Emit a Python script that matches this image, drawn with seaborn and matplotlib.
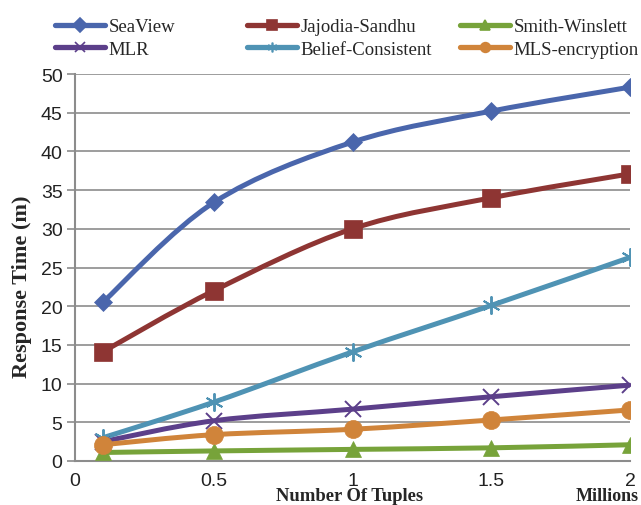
import matplotlib
matplotlib.use("Agg")
import matplotlib.pyplot as plt
from matplotlib.path import Path
from matplotlib.patches import PathPatch
from matplotlib.lines import Line2D
import seaborn as sns
import pandas as pd
import numpy as np

tuples = [0.1, 0.5, 1.0, 1.5, 2.0]
seaview = [20.5, 33.4, 41.2, 45.2, 48.3]
jajodia = [14.1, 22.0, 30.0, 34.0, 37.1]
smith = [1.1, 1.3, 1.5, 1.7, 2.1]
mlr = [2.5, 5.2, 6.7, 8.3, 9.8]
belief = [3.0, 7.6, 14.1, 20.1, 26.3]
mls = [2.1, 3.4, 4.1, 5.3, 6.6]

names = ["SeaView", "Jajodia-Sandhu", "Smith-Winslett", "MLR", "Belief-Consistent", "MLS-encryption"]
values = [seaview, jajodia, smith, mlr, belief, mls]
colors = ["#4A66AC", "#8E3533", "#77A33A", "#5C3F8A", "#4F93B4", "#D0843A"]
markers = ["D", "s", "^", "x", (6, 2, 0), "o"]
msizes = [9.5, 13, 12, 11, 13, 13]

rows = []
for n, v in zip(names, values):
    for x, y in zip(tuples, v):
        rows.append({"series": n, "tuples": x, "time": y})
df = pd.DataFrame(rows)

sns.set_theme(style="white")
W, H = 641, 506
fig = plt.figure(figsize=(W / 100, H / 100), dpi=100)
ax = fig.add_axes([75 / W, 44 / H, 555 / W, 387 / H])


def smooth_path(xs, ys):
    pts = np.column_stack([xs, ys])
    n = len(pts)
    verts = [pts[0]]
    codes = [Path.MOVETO]
    for i in range(n - 1):
        p0 = pts[i - 1] if i > 0 else pts[i]
        p1 = pts[i]
        p2 = pts[i + 1]
        p3 = pts[i + 2] if i + 2 < n else pts[i + 1]
        c1 = p1 + (p2 - p0) / 6.0
        c2 = p2 - (p3 - p1) / 6.0
        verts += [c1, c2, p2]
        codes += [Path.CURVE4] * 3
    return Path(verts, codes)


handles = []
for n, c, m, ms in zip(names, colors, markers, msizes):
    sub = df[df.series == n]
    patch = PathPatch(smooth_path(sub.tuples.values, sub.time.values), facecolor="none",
                      edgecolor=c, lw=3.6, zorder=3)
    ax.add_patch(patch)
    thin = m == "x" or isinstance(m, tuple)
    sns.lineplot(data=sub, x="tuples", y="time", ax=ax, color=c, marker=m,
                 markersize=ms, linewidth=0, markeredgecolor=c,
                 markeredgewidth=1.4 if thin else 0.5,
                 legend=False, zorder=4)
    handles.append(Line2D([0], [0], color=c, lw=3.8, marker=m, markersize=7,
                          markeredgecolor=c, markeredgewidth=1.2))

ax.set_xlim(0, 2)
ax.set_ylim(0, 50)
ax.set_yticks(range(0, 51, 5))
ax.set_xticks([0, 0.5, 1, 1.5, 2])
ax.set_xticklabels(["0", "0.5", "1", "1.5", "2"])
ax.yaxis.grid(True, color="#8C8C8C", lw=1.2)
ax.xaxis.grid(False)
for s in ["top", "right"]:
    ax.spines[s].set_visible(False)
for s in ["left", "bottom"]:
    ax.spines[s].set_color("#8C8C8C")
    ax.spines[s].set_linewidth(1.5)
ax.tick_params(axis="y", left=True, length=6, width=1.2, color="#8C8C8C",
               labelsize=14, pad=3, labelcolor="#222222")
ax.tick_params(axis="x", bottom=False, labelsize=14, pad=2, labelcolor="#222222")
for lab in ax.get_xticklabels() + ax.get_yticklabels():
    lab.set_fontfamily("Liberation Sans")

ax.set_xlabel("")
ax.set_ylabel("")
fig.text(22 / W, 1 - 287 / H, "Response Time (m)", fontfamily="Liberation Serif",
         fontweight="bold", fontsize=16, rotation=90, ha="center", va="center")
fig.text(350 / W, 1 - 497 / H, "Number Of Tuples", fontfamily="Liberation Serif",
         fontweight="bold", fontsize=13.4, ha="center", va="center")
fig.text(639 / W, 1 - 497 / H, "Millions", fontfamily="Liberation Serif", fontweight="bold",
         fontsize=13, ha="right", va="center")

# legend: three columns at fixed positions, two rows each
col_x = [55, 247, 460]
for ci, cx in enumerate(col_x):
    idx = [ci, ci + 3]
    fig.legend(handles=[handles[i] for i in idx], labels=[names[i] for i in idx],
               loc="upper left", bbox_to_anchor=(cx / W, 1 - 19 / H), frameon=False,
               handlelength=2.65, handletextpad=0.2, labelspacing=0.3,
               borderpad=0, borderaxespad=0,
               prop={"family": "Liberation Serif", "size": 13.5})

fig.savefig("out.png", dpi=100)
